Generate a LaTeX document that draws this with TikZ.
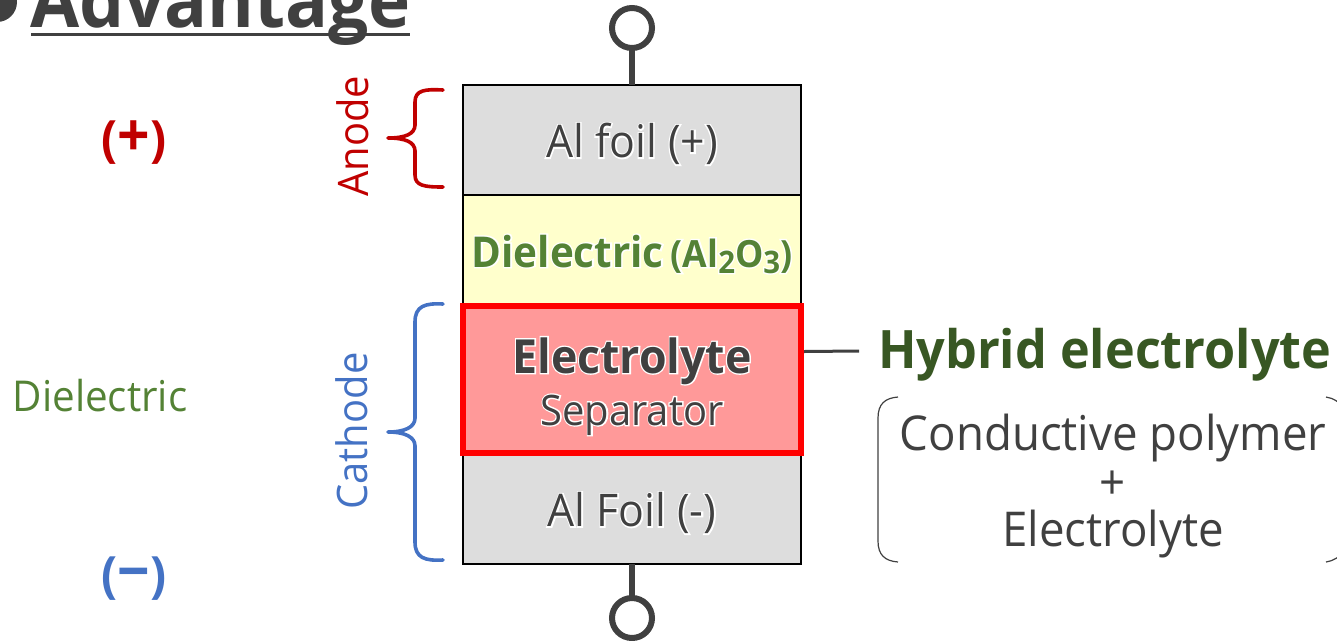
\documentclass[tikz,border=0pt]{standalone}
\usepackage{fontspec}
\setmainfont{Open Sans}[FakeStretch=0.95]
\newcommand{\px}[1]{\fontsize{\dimexpr#1pt*3/4\relax}{\dimexpr#1pt*9/10\relax}\selectfont}
\newcommand{\halo}[1]{\leavevmode\rlap{\special{pdf:code q 1 1 1 RG 1 1 1 rg 1 Tr 2 w}#1\special{pdf:code 0 Tr Q}}#1}
\definecolor{ink}{HTML}{404040}
\definecolor{anodered}{HTML}{C00000}
\definecolor{cathblue}{HTML}{4472C4}
\definecolor{dielgreen}{HTML}{548235}
\definecolor{hybgreen}{HTML}{385723}
\definecolor{layergray}{HTML}{DDDDDD}
\definecolor{layeryellow}{HTML}{FFFFCC}
\definecolor{layerpink}{HTML}{FF9999}
\tikzset{
  every node/.style={inner sep=0pt,outer sep=0pt,text=ink},
  layer/.style={draw=black,line width=1.5pt*0.75,minimum width=338*0.75pt},
  wire/.style={draw=ink,line width=6*0.75pt},
  brace/.style={line width=3.6*0.75pt,line cap=round,line join=round},
  lab/.style={align=center,anchor=center},
}
\begin{document}
\begin{tikzpicture}[x=0.75pt,y=-0.75pt]
\useasboundingbox (0,0) rectangle (1337,640);
\clip (0,0) rectangle (1337,640);
% title
\fill[ink] (-3,2) circle (20);
\node[anchor=base west,text=ink] (title) at (30,27) {\px{75}\bfseries Advantage};
\draw[ink,line width=3*0.75pt] (31,34) -- (410,34);
% layers
\node[layer,fill=layergray,minimum height=110*0.75pt] (foilA) at (632,140) {};
\node[layer,fill=layeryellow,minimum height=109*0.75pt] (diel) at (632,249.5) {};
\node[layer,fill=layergray,minimum height=111*0.75pt] (foilC) at (632,508.5) {};
\node[draw=red,fill=layerpink,line width=6*0.75pt,minimum width=338*0.75pt,minimum height=147*0.75pt] (elec) at (632,379.5) {};
% layer texts
\node[lab] (tA) at (632,144) {\px{45}\halo{Al foil (+)}};
\node[anchor=base,text=dielgreen] (tD) at (632,267) {\halo{\px{42.5}\bfseries Dielectric}\,\halo{\px{37.5}\bfseries (Al\raisebox{-0.3ex}{\px{31}2}O\raisebox{-0.3ex}{\px{31}3})}};
\node[anchor=base] (tE) at (632,373) {\px{47}\bfseries\halo{Electrolyte}};
\node[anchor=base] (tS) at (632,425) {\px{42}\halo{Separator}};
\node[lab] (tC) at (632,513) {\px{45}\halo{Al Foil (-)}};
% terminals
\node[draw=ink,line width=6*0.75pt,circle,minimum size=40*0.75pt] (topT) at (632,28) {};
\node[draw=ink,line width=6*0.75pt,circle,minimum size=40*0.75pt] (botT) at (632,618) {};
\draw[wire] (topT) -- (foilA);
\draw[wire] (botT) -- (foilC);
% braces
\coordinate (aTop) at (443,90); \coordinate (aBot) at (443,187); \coordinate (aTip) at (388,138);
\draw[brace,anodered] (aTop) .. controls (425,89) and (415,90) .. (415,102) -- (415,125)
  .. controls (415,134) and (405,138) .. (aTip) .. controls (405,138) and (415,142) .. (415,151)
  -- (415,175) .. controls (415,186) and (425,187) .. (aBot);
\coordinate (cTop) at (443,304); \coordinate (cBot) at (443,560); \coordinate (cTip) at (388,432);
\draw[brace,cathblue] (cTop) .. controls (425,303) and (415,306) .. (415,322) -- (415,418)
  .. controls (415,427) and (405,432) .. (cTip) .. controls (405,432) and (415,437) .. (415,446)
  -- (415,542) .. controls (415,558) and (425,561) .. (cBot);
\node[rotate=90,text=anodered] (anode) at (353,136) {\px{42}Anode};
\node[rotate=90,text=cathblue] (cathode) at (352,431) {\px{42}Cathode};
% left labels
\node[text=anodered] (plus) at (134,143) {\bfseries\px{50}(\px{60}+\px{50})};
\node[text=cathblue] (minus) at (134,579) {\bfseries\px{50}(\px{60}−\px{50})};
\node[text=dielgreen] (dlab) at (100,396) {\px{42.5}Dielectric};
% hybrid
\node[anchor=base west,text=hybgreen] (hyb) at (878,368) {\px{53}\bfseries Hybrid electrolyte};
\draw[ink,line width=3*0.75pt] (elec.east) ++(3,-28) coordinate (cs) -- (859,351) coordinate (ce);
\draw[ink,line width=1.2*0.75pt] (898,397) .. controls (885,398) and (878,404) .. (878,418) -- (878,541) .. controls (878,555) and (885,561) .. (898,562);
\draw[ink,line width=1.2*0.75pt] (1326,397) .. controls (1333,398) and (1340,402) .. (1345,410);
\draw[ink,line width=1.2*0.75pt] (1326,562) .. controls (1333,561) and (1340,557) .. (1345,550);
\node[lab] (cp) at (1113,438) {\px{48}Conductive polymer};
\node[lab] (pl) at (1113,485) {\px{48}+};
\node[lab] (el) at (1113,534) {\px{48}Electrolyte};
\end{tikzpicture}
\end{document}
